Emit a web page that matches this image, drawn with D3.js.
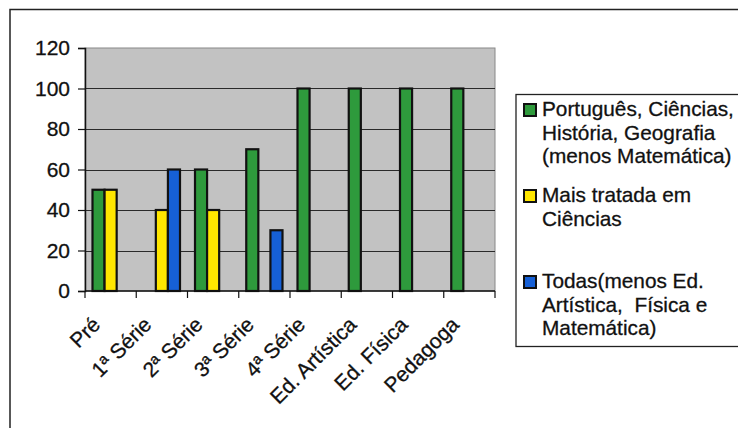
<!DOCTYPE html>
<html>
<head>
<meta charset="utf-8">
<script src="https://cdn.jsdelivr.net/npm/d3@7"></script>
<style>
body { margin: 0; background: white; }
svg { display: block; font-family: "Liberation Sans", Arial, sans-serif; }
</style>
</head>
<body>
<svg></svg>
<script>
var w = 738
var h = 428

var categories = ["Pré", "1ª Série", "2ª Série", "3ª Série", "4ª Série", "Ed. Artística", "Ed. Física", "Pedagoga"]
var seriesNames = ["verde", "amarelo", "azul"]
var verde = [50, 0, 60, 70, 100, 100, 100, 100]
var amarelo = [50, 40, 40, 0, 0, 0, 0, 0]
var azul = [0, 60, 0, 30, 0, 0, 0, 0]
var yTicks = [0, 20, 40, 60, 80, 100, 120]

var legendLines = [
	["Português, Ciências,", "História, Geografia", "(menos Matemática)"],
	["Mais tratada em", "Ciências"],
	["Todas(menos Ed.", "Artística,  Física e", "Matemática)"]
]

var colors = {verde: "#2e9a3c", amarelo: "#ffe600", azul: "#1660d6"}
var values = {verde: verde, amarelo: amarelo, azul: azul}

var plot = {left: 85, right: 495, top: 48, bottom: 291}

var svg = d3.select("svg")
	.attr("width", w)
	.attr("height", h)

// outer frame (runs off the right and bottom edges)
svg.append("rect")
	.attr("x", 10)
	.attr("y", 9.5)
	.attr("width", 740)
	.attr("height", 430)
	.attr("fill", "white")
	.attr("stroke", "#222")
	.attr("stroke-width", 1.5)

var x = d3.scaleBand()
	.domain(categories)
	.range([plot.left, plot.right])

var xs = d3.scaleBand()
	.domain(seriesNames)
	.range([7.5, x.bandwidth() - 7.5])

var y = d3.scaleLinear()
	.domain([0, 120])
	.range([plot.bottom, plot.top])

// plot background
svg.append("rect")
	.attr("x", plot.left)
	.attr("y", plot.top)
	.attr("width", plot.right - plot.left)
	.attr("height", plot.bottom - plot.top)
	.attr("fill", "#c2c2c2")
	.attr("stroke", "#888")
	.attr("stroke-width", 1)

// gridlines
svg.append("g")
	.selectAll("line")
	.data(yTicks.filter(function(d){ return d > 0 && d < 120 }))
	.join("line")
	.attr("x1", plot.left)
	.attr("x2", plot.right)
	.attr("y1", function(d){ return Math.round(y(d)) + 0.5 })
	.attr("y2", function(d){ return Math.round(y(d)) + 0.5 })
	.attr("stroke", "#2a2a2a")
	.attr("stroke-width", 1)

// bars
var barData = []
categories.forEach(function(c, i){
	seriesNames.forEach(function(s){
		if(values[s][i] > 0){
			barData.push({cat: c, series: s, value: values[s][i]})
		}
	})
})

svg.append("g")
	.selectAll("rect")
	.data(barData)
	.join("rect")
	.attr("x", function(d){ return x(d.cat) + xs(d.series) })
	.attr("y", function(d){ return y(d.value) })
	.attr("width", xs.bandwidth())
	.attr("height", function(d){ return y(0) - y(d.value) })
	.attr("fill", function(d){ return colors[d.series] })
	.attr("stroke", "#111")
	.attr("stroke-width", 2.2)

// y axis
var yAxis = svg.append("g")
	.attr("transform", "translate(" + plot.left + ",0)")
	.call(d3.axisLeft(y).tickValues(yTicks).tickSize(7).tickPadding(8))
yAxis.select(".domain").attr("stroke", "#111").attr("stroke-width", 1.5)
yAxis.selectAll(".tick line").attr("stroke", "#111").attr("stroke-width", 1.2)
yAxis.selectAll("text")
	.attr("font-size", "21px")
	.attr("font-family", "Liberation Sans, Arial, sans-serif")
	.attr("fill", "#111")
	.attr("stroke", "#111")
	.attr("stroke-width", 0.3)

// x axis: ticks on category boundaries
var xAxisG = svg.append("g")
svg.append("line")
	.attr("x1", plot.left)
	.attr("x2", plot.right)
	.attr("y1", plot.bottom)
	.attr("y2", plot.bottom)
	.attr("stroke", "#111")
	.attr("stroke-width", 1.5)

xAxisG.selectAll("line")
	.data(categories.concat(["end"]))
	.join("line")
	.attr("x1", function(d, i){ return plot.left + i * x.bandwidth() })
	.attr("x2", function(d, i){ return plot.left + i * x.bandwidth() })
	.attr("y1", plot.bottom)
	.attr("y2", plot.bottom + 7)
	.attr("stroke", "#111")
	.attr("stroke-width", 1.2)

xAxisG.selectAll("text")
	.data(categories)
	.join("text")
	.attr("transform", function(d){
		var cx = x(d) + x.bandwidth() / 2 - 9
		return "translate(" + cx + "," + (plot.bottom + 35) + ") rotate(-45)"
	})
	.attr("text-anchor", "end")
	.attr("font-size", "21px")
	.attr("fill", "#111")
	.attr("stroke", "#111")
	.attr("stroke-width", 0.3)
	.text(function(d){ return d })

// legend
var legend = svg.append("g")
legend.append("rect")
	.attr("x", 516)
	.attr("y", 94.5)
	.attr("width", 240)
	.attr("height", 252)
	.attr("fill", "white")
	.attr("stroke", "#222")
	.attr("stroke-width", 1.3)

var itemBase = [116, 202, 288]
var lineStep = 23.5

legendLines.forEach(function(lines, i){
	var s = seriesNames[i]
	legend.append("rect")
		.attr("x", 524)
		.attr("y", itemBase[i] - 12)
		.attr("width", 12)
		.attr("height", 12)
		.attr("fill", colors[s])
		.attr("stroke", "#111")
		.attr("stroke-width", 2)
	lines.forEach(function(t, j){
		legend.append("text")
			.attr("x", 542)
			.attr("y", itemBase[i] + j * lineStep)
			.attr("font-size", "20.8px")
			.attr("fill", "#111")
			.attr("stroke", "#111")
			.attr("stroke-width", 0.3)
			.style("white-space", "pre")
			.text(t)
	})
})
</script>
</body>
</html>
